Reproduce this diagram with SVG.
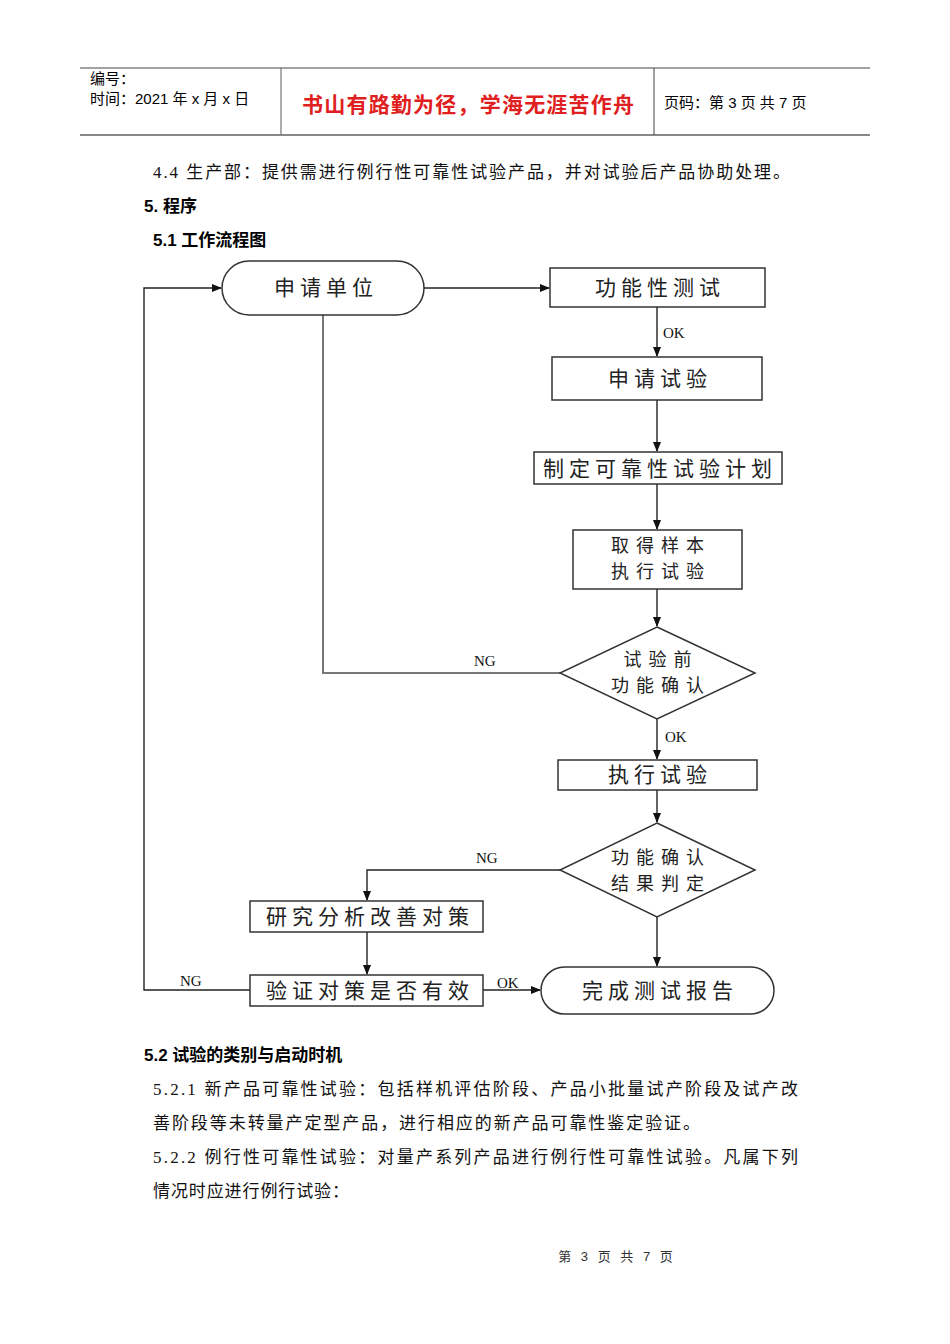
<svg xmlns="http://www.w3.org/2000/svg" width="950" height="1344" viewBox="0 0 950 1344">
<style>
.hd{font-family:"Liberation Sans","Noto Sans CJK SC",sans-serif;font-size:15px;fill:#000}
.body{font-family:"Liberation Serif","Noto Sans CJK SC",serif;font-size:17px;fill:#111}
.bold{font-family:"Liberation Sans","Noto Sans CJK SC",sans-serif;font-size:17px;font-weight:bold;fill:#000}
.nd{fill:#fff;stroke:#333;stroke-width:1.5}
.lb{font-family:"Noto Sans CJK SC",sans-serif;font-size:21px;fill:#222;text-anchor:middle;letter-spacing:5px}
.lb2{font-family:"Noto Sans CJK SC",sans-serif;font-size:18px;fill:#222;text-anchor:middle;letter-spacing:7px}
.ed{font-family:"Liberation Serif",serif;font-size:15px;fill:#111}
.cn{fill:none;stroke:#222;stroke-width:1.4}
</style>
<defs>
<marker id="ar" markerWidth="10" markerHeight="10" refX="9" refY="5" orient="auto" markerUnits="userSpaceOnUse">
<path d="M0,1 L10,5 L0,9 Z" fill="#111"/>
</marker>
</defs>
<rect width="950" height="1344" fill="#fff"/>
<g id="header">
<line x1="80" y1="68" x2="870" y2="68" stroke="#444" stroke-width="1"/>
<line x1="80" y1="135" x2="870" y2="135" stroke="#888" stroke-width="2"/>
<line x1="281" y1="68" x2="281" y2="135" stroke="#777" stroke-width="1.2"/>
<line x1="654" y1="68" x2="654" y2="135" stroke="#444" stroke-width="1"/>
<text class="hd" x="90" y="84">编号：</text>
<text class="hd" x="90" y="104">时间：2021 年 x 月 x 日</text>
<text x="468" y="112" font-family="Noto Sans CJK SC,sans-serif" font-size="21" font-weight="bold" fill="#e02020" text-anchor="middle" textLength="332" lengthAdjust="spacing">书山有路勤为径，学海无涯苦作舟</text>
<text class="hd" x="664" y="108">页码：第 3 页  共 7 页</text>
</g>
<g id="text-top">
<text class="body" x="153" y="178" textLength="637" lengthAdjust="spacing">4.4 生产部：提供需进行例行性可靠性试验产品，并对试验后产品协助处理。</text>
<text class="bold" x="144" y="212">5. 程序</text>
<text class="bold" x="153" y="246">5.1 工作流程图</text>
</g>
<g id="connectors">
<line class="cn" x1="424" y1="288" x2="549" y2="288" marker-end="url(#ar)"/>
<line class="cn" x1="657" y1="307" x2="657" y2="356" marker-end="url(#ar)"/>
<line class="cn" x1="657" y1="400" x2="657" y2="451" marker-end="url(#ar)"/>
<line class="cn" x1="657" y1="484" x2="657" y2="529" marker-end="url(#ar)"/>
<line class="cn" x1="657" y1="589" x2="657" y2="626" marker-end="url(#ar)"/>
<polyline points="560,673 323,673 323,315" fill="none" stroke="#777" stroke-width="2"/>
<line class="cn" x1="657" y1="719" x2="657" y2="759" marker-end="url(#ar)"/>
<line class="cn" x1="657" y1="790" x2="657" y2="822" marker-end="url(#ar)"/>
<polyline class="cn" points="560,870 367,870 367,900" marker-end="url(#ar)"/>
<line class="cn" x1="367" y1="932" x2="367" y2="974" marker-end="url(#ar)"/>
<line class="cn" x1="657" y1="917" x2="657" y2="966" marker-end="url(#ar)"/>
<line class="cn" x1="483" y1="990" x2="540" y2="990" marker-end="url(#ar)"/>
<polyline class="cn" points="250,990 144,990 144,288 221,288" marker-end="url(#ar)"/>
<text class="ed" x="663" y="338">OK</text>
<text class="ed" x="474" y="666">NG</text>
<text class="ed" x="665" y="742">OK</text>
<text class="ed" x="476" y="863">NG</text>
<text class="ed" x="180" y="986">NG</text>
<text class="ed" x="497" y="988">OK</text>
</g>
<g id="n1"><rect class="nd" x="222" y="261" width="202" height="54" rx="27"/><text class="lb" x="326" y="295">申请单位</text></g>
<g id="n2"><rect class="nd" x="550" y="268" width="215" height="39"/><text class="lb" x="660" y="295">功能性测试</text></g>
<g id="n3"><rect class="nd" x="552" y="357" width="210" height="43"/><text class="lb" x="660" y="386">申请试验</text></g>
<g id="n4"><rect class="nd" x="534" y="452" width="248" height="32"/><text class="lb" x="660" y="476">制定可靠性试验计划</text></g>
<g id="n5"><rect class="nd" x="573" y="530" width="169" height="59"/><text class="lb2"><tspan x="661" y="552">取得样本</tspan><tspan x="661" y="578">执行试验</tspan></text></g>
<g id="n6"><polygon class="nd" points="657,627 755,673 657,719 560,673"/><text class="lb2"><tspan x="661" y="666">试验前</tspan><tspan x="661" y="692">功能确认</tspan></text></g>
<g id="n7"><rect class="nd" x="558" y="760" width="199" height="30"/><text class="lb" x="660" y="782">执行试验</text></g>
<g id="n8"><polygon class="nd" points="657,823 755,870 657,917 560,870"/><text class="lb2"><tspan x="661" y="864">功能确认</tspan><tspan x="661" y="890">结果判定</tspan></text></g>
<g id="n9"><rect class="nd" x="250" y="901" width="233" height="31"/><text class="lb" x="370" y="924">研究分析改善对策</text></g>
<g id="n10"><rect class="nd" x="250" y="975" width="233" height="31"/><text class="lb" x="370" y="998">验证对策是否有效</text></g>
<g id="n11"><rect class="nd" x="541" y="967" width="233" height="47" rx="23.5"/><text class="lb" x="660" y="998">完成测试报告</text></g>
<g id="text-bottom">
<text class="bold" x="144" y="1061">5.2 试验的类别与启动时机</text>
<text class="body" x="153" y="1095" textLength="645" lengthAdjust="spacing">5.2.1 新产品可靠性试验：包括样机评估阶段、产品小批量试产阶段及试产改</text>
<text class="body" x="153" y="1129" textLength="547" lengthAdjust="spacing">善阶段等未转量产定型产品，进行相应的新产品可靠性鉴定验证。</text>
<text class="body" x="153" y="1163" textLength="645" lengthAdjust="spacing">5.2.2 例行性可靠性试验：对量产系列产品进行例行性可靠性试验。凡属下列</text>
<text class="body" x="153" y="1197" textLength="196" lengthAdjust="spacing">情况时应进行例行试验：</text>
</g>
<g id="footer">
<text x="617" y="1261" font-family="Liberation Sans,Noto Sans CJK SC,sans-serif" font-size="13" fill="#333" text-anchor="middle" letter-spacing="3">第 3 页 共 7 页</text>
</g>
</svg>
